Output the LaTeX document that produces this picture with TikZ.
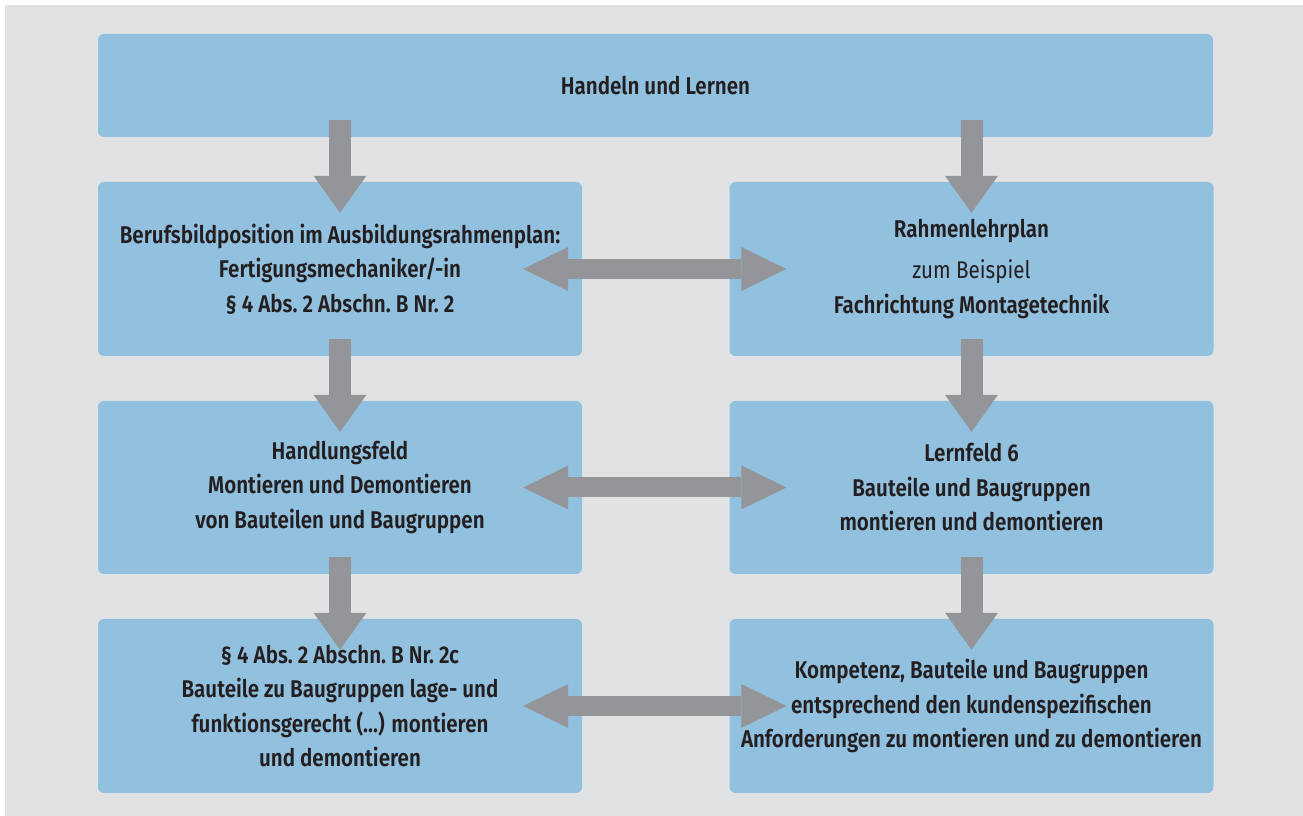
\documentclass[tikz,border=0pt]{standalone}
\usepackage{fontspec}
\setmainfont{Fira Sans}[FakeStretch=0.85, BoldFont={Fira Sans SemiBold}]
\usetikzlibrary{arrows.meta}

\definecolor{bgrey}{HTML}{E1E2E4}
\definecolor{boxblue}{HTML}{92C0DF}
\definecolor{arrowgrey}{HTML}{939598}
\definecolor{ink}{HTML}{231F20}

\begin{document}
\begin{tikzpicture}[x=1pt,y=1pt,
  box/.style={fill=boxblue, rounded corners=6pt, inner sep=0pt, text=ink,
    align=center, font=\bfseries\fontsize{24.2}{34.5}\selectfont},
  halfbox/.style={box, minimum width=484pt, minimum height=174pt},
  downarrow/.style={draw=arrowgrey, line width=22pt,
    -{Triangle[length=37pt 0 0, width=53pt 0 0, line width=0pt 0 0]}},
  twoway/.style={draw=arrowgrey, line width=20pt,
    {Triangle[length=45pt 0 0, width=44pt 0 0, line width=0pt 0 0]}-{Triangle[length=45pt 0 0, width=44pt 0 0, line width=0pt 0 0]}}
]
% canvas
\useasboundingbox (0,0) rectangle (1303,816);
\fill[white] (0,0) rectangle (1303,816);
\fill[bgrey] (5,0) rectangle (1303,811);

% boxes
\node[box, minimum width=1115pt, minimum height=103pt] (top) at (655.5,730.5) {Handeln und Lernen};

\node[halfbox] (l2) at (340,547) {Berufsbildposition im Ausbildungsrahmenplan:\\ Fertigungsmechaniker/-in\\ \S\ 4 Abs.\ 2 Abschn.\ B Nr.\ 2};
\node[halfbox] (r2) at (971.5,547) {Rahmenlehrplan\\[7pt] {\mdseries zum Beispiel}\\ Fachrichtung Montagetechnik};

\node[halfbox, minimum height=173pt] (l3) at (340,328.5) {Handlungsfeld\\ Montieren und Demontieren\\ von Bauteilen und Baugruppen};
\node[halfbox, minimum height=173pt] (r3) at (971.5,328.5) {Lernfeld 6\\ Bauteile und Baugruppen\\ montieren und demontieren};

\node[halfbox] (l4) at (340,110) {\S\ 4 Abs.\ 2 Abschn.\ B Nr.\ 2c\\ Bauteile zu Baugruppen lage- und\\ funktionsgerecht (...) montieren\\ und demontieren};
\node[halfbox] (r4) at (971.5,110) {Kompetenz, Bauteile und Baugruppen\\ entsprechend den kundenspezifischen\\ Anforderungen zu montieren und zu demontieren};

% downward arrows
\draw[downarrow] ([yshift=17pt]top.south -| l2.north) -- ([yshift=-31pt]l2.north);
\draw[downarrow] ([yshift=17pt]top.south -| r2.north) -- ([yshift=-31pt]r2.north);
\draw[downarrow] ([yshift=17pt]l2.south) -- ([yshift=-31pt]l3.north);
\draw[downarrow] ([yshift=17pt]r2.south) -- ([yshift=-31pt]r3.north);
\draw[downarrow] ([yshift=17pt]l3.south) -- ([yshift=-31pt]l4.north);
\draw[downarrow] ([yshift=17pt]r3.south) -- ([yshift=-31pt]r4.north);

% two-way arrows between the columns
\draw[twoway] ([xshift=-59pt]l2.east) -- ([xshift=57pt]r2.west);
\draw[twoway] ([xshift=-59pt]l3.east) -- ([xshift=57pt]r3.west);
\draw[twoway] ([xshift=-59pt]l4.east) -- ([xshift=57pt]r4.west);
\end{tikzpicture}
\end{document}
